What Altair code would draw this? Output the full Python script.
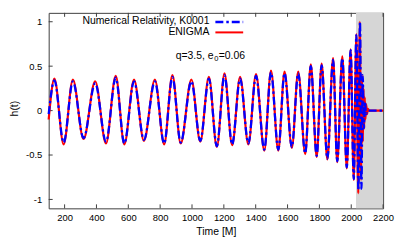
import altair as alt
import pandas as pd

# ---- data (extrema of the waveform) ----
t_nr = [100, 136, 194, 252, 319, 392, 460, 521, 575, 636, 698, 767, 825, 877, 929,
        996, 1052, 1106, 1156, 1204, 1252, 1302, 1354, 1402, 1454, 1496, 1542, 1581,
        1627, 1667, 1711, 1746, 1783, 1814, 1850, 1886, 1912, 1944, 1972, 1996, 2016,
        2032, 2045, 2055, 2064, 2072, 2079, 2086, 2093, 2102, 2200]
h_nr = [-0.04, 0.34, -0.36, 0.33, -0.31, 0.31, -0.35, 0.37, -0.37, 0.33, -0.33, 0.33,
        -0.37, 0.38, -0.36, 0.33, -0.34, 0.36, -0.40, 0.40, -0.38, 0.36, -0.37, 0.39,
        -0.44, 0.43, -0.44, 0.42, -0.41, 0.42, -0.48, 0.50, -0.51, 0.51, -0.54, 0.57,
        -0.57, 0.59, -0.64, 0.68, -0.77, 0.85, -0.90, 1.00, -0.88, 0.40, -0.20, 0.10,
        -0.04, 0.0, 0.0]

t_en = [100, 136, 194, 252, 319, 392, 460, 521, 575, 636, 698, 767, 825, 877, 929,
        996, 1052, 1106, 1156, 1204, 1252, 1302, 1354, 1402, 1454, 1496, 1542, 1581,
        1627, 1667, 1711, 1746, 1783, 1814, 1850, 1886, 1912, 1944, 1972, 1996, 2016,
        2032, 2044, 2054, 2062, 2068, 2073, 2077, 2081, 2085, 2089, 2094, 2099, 2105,
        2112, 2200]
h_en = [-0.10, 0.36, -0.38, 0.35, -0.32, 0.33, -0.37, 0.39, -0.38, 0.35, -0.34, 0.35,
        -0.38, 0.40, -0.37, 0.35, -0.35, 0.38, -0.41, 0.42, -0.39, 0.38, -0.38, 0.41,
        -0.45, 0.45, -0.45, 0.44, -0.42, 0.44, -0.49, 0.52, -0.52, 0.53, -0.55, 0.59,
        -0.58, 0.61, -0.65, 0.69, -0.78, 0.86, -0.93, 1.00, -0.78, 0.40, -0.35, 0.25,
        -0.20, 0.15, -0.10, 0.07, -0.04, 0.02, 0.0, 0.0]

x_ticks = [200, 400, 600, 800, 1000, 1200, 1400, 1600, 1800, 2000, 2200]
y_ticks = [-1, -0.5, 0, 0.5, 1]
legend_labels = ["Numerical Relativity, K0001", "ENIGMA"]
shade_range = [2030, 2200]
annotation = ["q=3.5, e", "0", "=0.06"]

FONT = "Liberation Sans"
FS = 10.5
TFS = 9.5
W, H = 337, 197
BORDER = "#404040"

xs = alt.Scale(domain=[100, 2200], nice=False, zero=False)
ys = alt.Scale(domain=[-1.1, 1.1], nice=False, zero=False)

x_axis = alt.Axis(title="Time [M]", values=x_ticks, ticks=False, domain=False, grid=False,
                  labelPadding=4.5, labelOverlap=False, labelFlush=False, labelBound=False,
                  labelExpr="'' + datum.value", titleY=23.5, titleBaseline="middle")
y_axis = alt.Axis(title="h(t)", values=y_ticks, ticks=False, domain=False, grid=False,
                  labelPadding=7, labelOverlap=False, labelFlush=False,
                  labelExpr="'' + datum.value",
                  titleX=-34.5, titleY=96, titleBaseline="middle")

nr = pd.DataFrame({"t": t_nr, "h": h_nr})
en = pd.DataFrame({"t": t_en, "h": h_en})
shade_df = pd.DataFrame({"t0": [shade_range[0]], "t1": [shade_range[1]]})
xt = pd.DataFrame({"v": x_ticks})
yt = pd.DataFrame({"v": y_ticks})

shade = alt.Chart(shade_df).mark_rect(color="#d6d6d6").encode(
    x=alt.X("t0:Q", scale=xs, axis=x_axis), x2="t1:Q",
    y=alt.value(0), y2=alt.value(H))

xt_bot = alt.Chart(xt).mark_rule(color=BORDER, strokeWidth=1).encode(
    x=alt.X("v:Q", scale=xs, axis=x_axis), y=alt.value(H), y2=alt.value(H - 4))
xt_top = alt.Chart(xt).mark_rule(color=BORDER, strokeWidth=1).encode(
    x=alt.X("v:Q", scale=xs, axis=x_axis), y=alt.value(0), y2=alt.value(4))
yt_left = alt.Chart(yt).mark_rule(color=BORDER, strokeWidth=1).encode(
    y=alt.Y("v:Q", scale=ys, axis=y_axis), x=alt.value(0), x2=alt.value(4))

red = alt.Chart(en).mark_line(color="#ff0000", strokeWidth=2.2, interpolate="monotone").encode(
    x=alt.X("t:Q", scale=xs, axis=x_axis), y=alt.Y("h:Q", scale=ys, axis=y_axis))
blue = alt.Chart(nr).mark_line(color="#0000ff", strokeWidth=2.3, strokeDash=[8, 3, 2.5, 3],
                               interpolate="monotone").encode(
    x=alt.X("t:Q", scale=xs, axis=x_axis), y=alt.Y("h:Q", scale=ys, axis=y_axis))

leg1 = alt.Chart(pd.DataFrame({"label": [legend_labels[0]]})).mark_text(
    font=FONT, fontSize=FS, align="right", baseline="middle", color="black").encode(
    text="label:N", x=alt.value(162), y=alt.value(8.5))
leg2 = alt.Chart(pd.DataFrame({"label": [legend_labels[1]]})).mark_text(
    font=FONT, fontSize=FS, align="right", baseline="middle", color="black").encode(
    text="label:N", x=alt.value(162), y=alt.value(19))
leg1_line = alt.Chart(pd.DataFrame({"label": [legend_labels[0]]})).mark_rule(
    color="#0000ff", strokeWidth=2.6, strokeDash=[8, 3, 2.5, 3]).encode(
    x=alt.value(168), x2=alt.value(196), y=alt.value(9.3))
leg2_line = alt.Chart(pd.DataFrame({"label": [legend_labels[1]]})).mark_rule(
    color="#ff0000", strokeWidth=2).encode(
    x=alt.value(168), x2=alt.value(196), y=alt.value(19.7))

ann1 = alt.Chart(pd.DataFrame({"s": [annotation[0]]})).mark_text(
    font=FONT, fontSize=FS, align="left", baseline="middle", color="black").encode(
    text="s:N", x=alt.value(128), y=alt.value(43.5))
ann2 = alt.Chart(pd.DataFrame({"s": [annotation[1]]})).mark_text(
    font=FONT, fontSize=7.5, align="left", baseline="middle", color="black").encode(
    text="s:N", x=alt.value(166.8), y=alt.value(46.5))
ann3 = alt.Chart(pd.DataFrame({"s": [annotation[2]]})).mark_text(
    font=FONT, fontSize=FS, align="left", baseline="middle", color="black").encode(
    text="s:N", x=alt.value(171.3), y=alt.value(43.5))

chart = alt.layer(
    shade, xt_bot, xt_top, yt_left, red, blue,
    leg1, leg2, leg1_line, leg2_line, ann1, ann2, ann3
).properties(
    width=W, height=H,
    autosize=alt.AutoSizeParams(type="none"),
    padding={"left": 41, "top": 4, "right": 12, "bottom": 29},
).configure_view(
    stroke=BORDER, strokeWidth=1
).configure_axis(
    labelFont=FONT, labelFontSize=TFS, labelColor="black",
    titleFont=FONT, titleFontSize=FS, titleFontWeight="normal", titleColor="black"
)

chart.save("out.html", embed_options={"renderer": "svg", "actions": False})
